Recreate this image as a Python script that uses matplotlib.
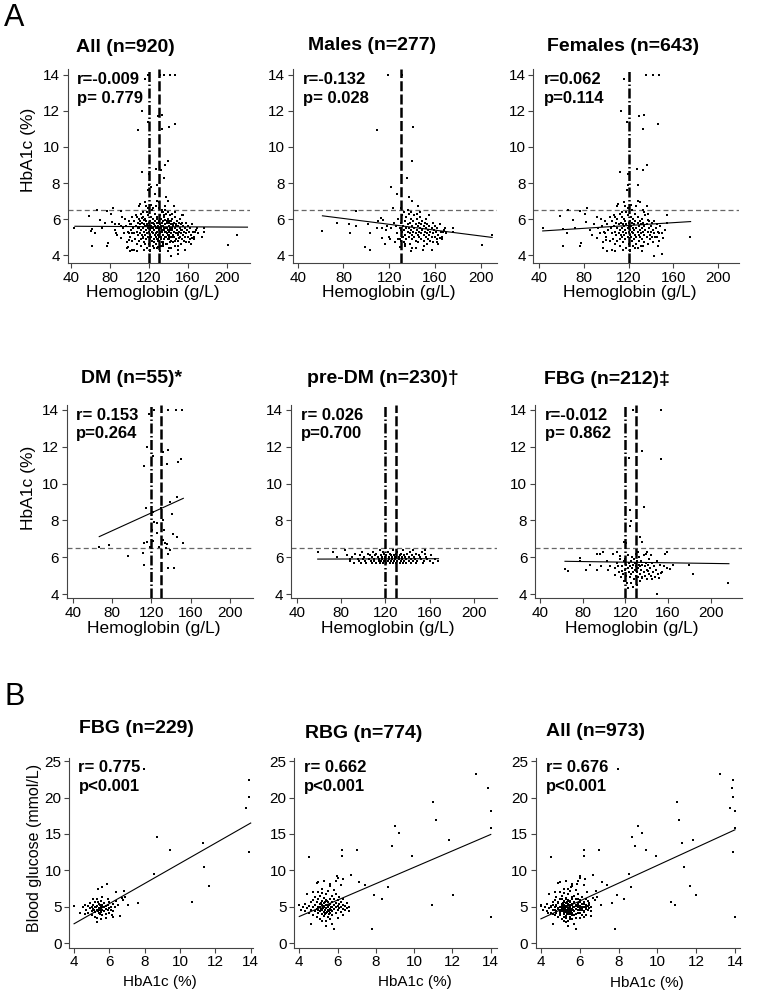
import matplotlib.pyplot as plt

plt.rcParams['font.family'] = ['Liberation Sans', 'DejaVu Sans']

W, H = 758, 997

# ---------------- Panel A: hemoglobin (g/L) vs HbA1c (%) ----------------
males = [
    (119, 14.0), (131, 14.0), (109, 10.95), (140.6, 11.1), (139.7, 9.2), (135.3, 8.3),
    (121.6, 7.8), (126.6, 7.4), (137, 7.2), (139.7, 7.0), (145.5, 6.7), (91, 6.45), (123.6, 6.6),
    (61, 5.35), (74.7, 5.8), (84.9, 5.7), (85.8, 5.2), (91, 5.6), (101.8, 5.75), (102.8, 5.2),
    (98.9, 4.45), (102.8, 4.3), (109, 5.5), (110.5, 5.9), (112.6, 6.05), (113.4, 5.5),
    (114.9, 5.95), (116.4, 4.6), (113.4, 4.95),
    (210.2, 5.1), (201.5, 4.55), (168.8, 5.5), (167.4, 5.3), (164.5, 4.95), (161.5, 4.75),
    (157.2, 4.3), (149.3, 4.3), (139.3, 4.25), (134.2, 4.6), (129.5, 4.45),
    (126, 5.6), (127, 5.2), (128, 4.9), (128, 6.0), (129, 5.5), (130, 5.8), (130, 4.8), (131, 5.3),
    (131, 6.2), (132, 5.0), (132, 5.6), (133, 5.4), (133, 4.7), (134, 5.9), (134, 5.1), (135, 5.5),
    (135, 6.1), (135, 4.9), (136, 5.3), (136, 5.7), (137, 5.0), (137, 6.3), (137, 5.5), (138, 5.2),
    (138, 5.8), (138, 4.6), (139, 5.4), (139, 6.0), (140, 5.1), (140, 5.6), (140, 4.9), (141, 5.3),
    (141, 5.9), (142, 5.5), (142, 5.0), (142, 6.2), (143, 5.2), (143, 5.7), (143, 4.8), (144, 5.4),
    (144, 6.0), (145, 5.1), (145, 5.6), (145, 4.7), (146, 5.3), (146, 5.8), (146, 5.0), (147, 5.5),
    (147, 6.1), (148, 5.2), (148, 5.7), (148, 4.9), (149, 5.4), (149, 5.9), (150, 5.1), (150, 5.6),
    (150, 4.8), (151, 5.3), (151, 5.8), (152, 5.0), (152, 5.5), (152, 6.0), (153, 5.2), (153, 5.7),
    (154, 4.9), (154, 5.4), (155, 5.1), (155, 5.6), (155, 6.2), (156, 5.3), (156, 4.8), (157, 5.5),
    (157, 5.0), (158, 5.2), (158, 5.8), (159, 5.4), (160, 5.0), (160, 5.6), (161, 5.3), (162, 4.9),
    (162, 5.5), (163, 5.1), (164, 5.7), (165, 5.3), (166, 5.0), (168, 5.4), (170, 5.2), (176, 5.5),
    (176, 5.3), (130, 5.4), (130, 6.6), (129, 4.9), (131, 5.0), (133, 6.4), (136, 6.5), (139, 6.4),
    (144, 6.3), (147, 6.4), (134, 4.5), (140, 4.4), (143, 4.4), (150, 4.5), (153, 4.6), (158, 4.7),
    (163, 4.6), (166, 4.9), (120, 5.0), (122, 5.5), (124, 5.8), (118, 5.6), (121, 4.9), (125, 4.7),
    (117, 5.4),
]

females = [
    (135.2, 14.0), (142, 14.0), (147, 14.0), (115.8, 13.8), (113.2, 12.0), (118.8, 11.4),
    (129.2, 11.7), (133.7, 11.8), (133.1, 11.0), (146.5, 11.3), (112.3, 8.6), (119.7, 8.5),
    (127.1, 8.8), (136, 9.0), (132.5, 8.7), (119.7, 7.9), (128, 7.9), (118.8, 7.6), (115.8, 6.95),
    (128, 7.0),
    (43.3, 5.5), (58.7, 6.15), (61.1, 5.45), (61.7, 4.5), (64.7, 5.25), (66.2, 6.5), (70, 5.95),
    (72.1, 5.5), (76.6, 6.45), (77.5, 4.65), (76.6, 4.5), (81, 6.3), (81.9, 5.85), (83.1, 6.6),
    (85.5, 5.4), (87, 5.1), (89.4, 5.75), (91.4, 4.95), (92, 6.1), (94.4, 5.2), (95.9, 5.6),
    (97.4, 4.4), (99.8, 4.85), (100.4, 4.2), (104.8, 4.3), (107.8, 4.2), (107.8, 6.1), (109.3, 6.7),
    (110.8, 6.85),
    (174.7, 5.0), (153.9, 6.2), (153.9, 5.8), (152.4, 5.4), (151, 4.95), (149.4, 4.05),
    (142.6, 3.95), (146.5, 4.5), (143.5, 5.0), (147.4, 5.2), (141.4, 5.4), (136, 6.7), (136.9, 5.95),
    (133, 6.5), (130.1, 6.95), (131.6, 4.2), (125.6, 4.4), (121.2, 4.2),
    (96, 5.6), (98, 5.3), (99, 5.9), (100, 5.0), (101, 5.7), (102, 5.4), (103, 6.1), (103, 4.8),
    (104, 5.5), (105, 5.2), (105, 5.9), (106, 4.9), (107, 5.6), (107, 6.2), (108, 5.3), (108, 4.6),
    (109, 5.8), (109, 5.1), (110, 5.5), (110, 6.0), (110, 4.8), (111, 5.2), (111, 5.7), (112, 5.4),
    (112, 6.3), (112, 4.9), (113, 5.1), (113, 5.8), (114, 5.5), (114, 5.0), (114, 6.1), (115, 5.3),
    (115, 5.7), (115, 4.7), (116, 5.6), (116, 5.1), (116, 6.0), (117, 5.4), (117, 4.9), (117, 5.9),
    (118, 5.2), (118, 5.7), (118, 6.4), (119, 5.5), (119, 5.0), (119, 6.2), (120, 5.3), (120, 5.8),
    (120, 4.6), (120, 5.6), (121, 5.1), (121, 5.9), (121, 5.4), (122, 5.6), (122, 5.0), (122, 6.1),
    (123, 5.3), (123, 5.8), (123, 4.8), (124, 5.5), (124, 6.0), (124, 5.2), (125, 5.7), (125, 4.9),
    (125, 5.4), (126, 5.1), (126, 5.9), (126, 6.3), (127, 5.5), (127, 5.0), (127, 4.6), (128, 5.3),
    (128, 5.8), (128, 6.1), (129, 5.6), (129, 5.1), (129, 4.8), (130, 5.4), (130, 5.9), (130, 5.0),
    (131, 5.2), (131, 5.7), (131, 4.5), (132, 5.5), (132, 6.0), (132, 4.9), (133, 5.3), (133, 5.8),
    (134, 5.1), (134, 5.6), (134, 4.7), (135, 5.4), (135, 6.2), (136, 5.0), (136, 5.7), (137, 5.3),
    (137, 4.6), (138, 5.5), (138, 5.9), (139, 5.1), (139, 4.9), (140, 5.6), (140, 5.3), (141, 5.0),
    (141, 5.8), (142, 5.4), (142, 4.7), (143, 5.2), (143, 5.9), (144, 5.5), (145, 5.0), (145, 5.7),
    (146, 5.3), (147, 4.8), (148, 5.6), (150, 5.2), (118, 4.4), (121, 4.3), (124, 4.5), (128, 4.4),
    (133, 4.5), (112, 4.5), (115, 4.3), (119, 6.6), (123, 6.5), (127, 6.7), (114, 6.4), (117, 6.7),
    (122, 6.8), (134, 6.4), (137, 6.3), (93, 5.5), (95, 6.0), (97, 4.7), (99, 5.2),
]

dm = [
    (118, 13.8), (123, 14.0), (137, 14.0), (145, 14.0), (151, 14.0), (115.3, 12.0), (121.4, 11.5),
    (131.5, 11.7), (137.3, 11.85), (135.6, 11.05), (146.8, 11.15), (149.8, 11.35), (112.9, 10.95),
    (114.2, 8.65), (122, 8.45), (129.8, 8.65), (139, 9.0), (145.8, 9.25), (140.7, 8.35), (122.7, 7.9),
    (126.1, 7.85), (132.2, 8.0), (120.3, 7.5), (132.9, 7.5), (142.4, 7.25), (145.8, 7.1), (125.4, 7.3),
    (131.5, 6.95), (133.9, 6.8), (135.6, 6.7), (151.9, 6.8), (112.5, 6.8), (115.3, 6.85),
    (121.4, 6.9), (118.6, 6.55), (128.1, 6.55), (134.6, 6.5), (139, 6.4), (67.1, 6.55), (76.9, 6.65),
    (95.9, 6.05), (111.9, 6.25), (112.9, 5.6), (137.3, 6.15), (136.6, 5.4), (143, 5.4),
]

predm = [
    (59.5, 6.3), (72.5, 6.3), (76.7, 6.0), (83.6, 6.4), (85.1, 6.1), (88.1, 5.9),
    (88, 5.8), (90, 6.0), (92, 5.7), (93, 6.2), (95, 5.9), (96, 5.8), (97, 6.1), (98, 5.7), (99, 6.3),
    (100, 5.9), (101, 6.0), (102, 5.8), (103, 5.7), (104, 6.2), (105, 5.9), (106, 6.1), (107, 5.8),
    (108, 5.7), (108, 6.0), (109, 6.3), (110, 5.9), (110, 5.8), (111, 6.1), (112, 5.7), (112, 6.2),
    (113, 6.0), (114, 5.8), (114, 5.9), (115, 6.4), (115, 5.7), (116, 6.1), (116, 5.8), (117, 6.0),
    (117, 5.9), (118, 6.3), (118, 5.7), (119, 6.2), (119, 5.8), (120, 6.0), (120, 5.9), (121, 5.7),
    (121, 6.1), (122, 5.8), (122, 6.3), (123, 6.0), (123, 5.9), (124, 5.7), (124, 6.2), (125, 5.8),
    (125, 6.1), (126, 6.0), (126, 5.9), (127, 5.7), (127, 6.4), (128, 5.8), (128, 6.1), (129, 6.0),
    (129, 5.9), (130, 5.7), (130, 6.2), (131, 5.8), (131, 6.3), (132, 6.0), (132, 5.9), (133, 5.7),
    (133, 6.1), (134, 5.8), (134, 6.2), (135, 6.0), (135, 5.9), (136, 5.7), (136, 6.4), (137, 5.8),
    (137, 6.1), (138, 6.0), (139, 5.9), (139, 5.7), (140, 6.2), (141, 5.8), (141, 6.0), (142, 6.3),
    (143, 5.9), (143, 5.7), (144, 6.1), (145, 5.8), (146, 6.0), (147, 5.9), (148, 6.2), (148, 5.7),
    (149, 5.8), (150, 6.1), (151, 6.0), (152, 5.9), (153, 6.3), (154, 5.7), (155, 5.8), (156, 6.2),
    (157, 6.0), (158, 5.9), (160, 5.8), (161, 6.1), (163, 5.7), (165, 5.9), (168, 5.8), (156, 6.4),
    (145, 6.4),
]

fbg_a = [
    (126.9, 14.0), (153.4, 14.0), (123.8, 11.4), (135.3, 11.75), (153.4, 11.35), (137.5, 8.75),
    (124.4, 8.55), (125, 7.95), (124.4, 7.7), (133.8, 7.1), (135.3, 6.85), (118.8, 6.85), (120.6, 6.75),
    (63.4, 5.35), (66.6, 5.25), (77.5, 5.95), (77.5, 5.8), (83.1, 5.3), (86.9, 5.6), (93.1, 5.3),
    (93.1, 6.2), (96.3, 6.2), (97.2, 5.5), (99.4, 6.3), (102.5, 5.8), (104.1, 5.3), (105.6, 5.5),
    (108.8, 6.15), (110.3, 5.05), (111.9, 6.3), (113.4, 5.5), (115, 6.05), (116.6, 5.25),
    (216.6, 4.6), (183.1, 5.1), (180, 5.6), (165, 5.6), (161.9, 5.35), (159.4, 5.4), (158.8, 6.3),
    (157.2, 6.15), (153.4, 5.15), (151.2, 4.85), (149.4, 4.0), (144.7, 4.8), (141.6, 5.25),
    (140, 6.3), (135.3, 4.85), (133.8, 4.7), (130.6, 4.5), (127.5, 4.4), (122.8, 4.35), (121.3, 4.6),
    (117, 5.5), (118, 5.1), (119, 5.8), (120, 5.3), (120, 5.9), (121, 5.0), (121, 5.6), (122, 5.4),
    (122, 6.1), (123, 5.2), (123, 5.7), (124, 4.9), (124, 5.5), (125, 5.8), (125, 5.1), (126, 5.4),
    (126, 6.0), (127, 5.2), (127, 5.6), (128, 4.8), (128, 5.9), (129, 5.3), (129, 5.7), (130, 5.0),
    (130, 5.5), (130, 6.2), (131, 5.2), (131, 5.8), (132, 5.4), (132, 4.9), (133, 5.6), (133, 6.0),
    (134, 5.1), (134, 5.5), (135, 5.8), (135, 5.3), (136, 4.9), (136, 5.6), (137, 5.2), (137, 6.1),
    (138, 5.5), (138, 5.0), (139, 5.7), (140, 5.3), (140, 4.8), (141, 5.6), (142, 5.1), (142, 5.9),
    (143, 5.4), (144, 5.0), (145, 5.7), (146, 5.2), (147, 5.5), (148, 4.9), (149, 5.3), (150, 5.8),
    (151, 5.1), (152, 5.6), (154, 5.2), (156, 5.5), (112, 5.7), (114, 5.2), (115, 5.9), (116, 4.9),
    (119, 4.7), (125, 4.6), (132, 6.3), (139, 6.2), (144, 6.1), (110, 5.4),
]

# ---------------- Panel B: HbA1c (%) vs blood glucose (mmol/L) ----------------
fbg_b = [
    (7.96, 23.95), (13.92, 22.4), (13.92, 20.05), (13.74, 18.6), (13.92, 12.5), (8.68, 14.55),
    (9.43, 12.8), (11.28, 13.75), (11.38, 10.45), (8.53, 9.5), (11.66, 7.8), (10.7, 5.6),
    (7.64, 5.55), (7.08, 5.3), (6.83, 7.2), (6.89, 6.4), (6.79, 5.95), (6.38, 7.0), (6.13, 3.9),
    (4.0, 5.15), (4.34, 4.1), (5.85, 8.15), (5.57, 7.7), (5.38, 7.45),
    (4.7, 4.6), (4.8, 5.1), (4.8, 4.2), (4.9, 4.8), (4.9, 5.5), (5.0, 4.4), (5.0, 5.0), (5.0, 3.8),
    (5.1, 4.7), (5.1, 5.3), (5.1, 6.1), (5.2, 4.3), (5.2, 4.9), (5.2, 5.6), (5.3, 4.5), (5.3, 5.1),
    (5.3, 3.5), (5.3, 6.0), (5.4, 4.8), (5.4, 4.1), (5.4, 5.4), (5.4, 4.6), (5.5, 5.0), (5.5, 4.3),
    (5.5, 5.8), (5.5, 3.3), (5.5, 4.8), (5.6, 4.6), (5.6, 5.2), (5.6, 3.9), (5.6, 6.4), (5.7, 4.9),
    (5.7, 4.4), (5.7, 5.5), (5.8, 4.7), (5.8, 5.1), (5.8, 4.0), (5.9, 4.5), (5.9, 5.3), (5.9, 6.0),
    (6.0, 4.8), (6.0, 4.2), (6.0, 5.6), (6.1, 4.6), (6.1, 5.0), (6.2, 4.4), (6.2, 5.4), (4.6, 5.3),
    (4.5, 4.9), (4.6, 4.0), (5.2, 3.6), (5.3, 2.9), (5.8, 3.5), (6.2, 3.6), (6.3, 4.9), (6.4, 5.8),
    (6.5, 5.2), (6.6, 3.7), (6.7, 6.2), (5.15, 4.6), (5.25, 5.0), (5.35, 4.4), (5.45, 5.2),
    (5.55, 4.5), (5.65, 5.0), (5.35, 5.7), (5.45, 4.0),
]

rbg = [
    (13.23, 23.25), (13.83, 21.3), (14.0, 18.1), (14.0, 15.85), (11.0, 19.45), (11.13, 16.85),
    (9.0, 16.15), (9.21, 15.1), (11.82, 14.1), (8.83, 13.3), (9.91, 11.95), (6.21, 12.85),
    (6.21, 11.95), (7.0, 12.75), (4.51, 11.8), (6.68, 9.3), (7.14, 8.4), (7.43, 8.0), (8.62, 7.7),
    (7.92, 6.55), (8.3, 6.1), (12.01, 6.55), (10.92, 5.25), (14.0, 3.65), (7.8, 1.95), (6.26, 8.85),
    (5.99, 9.2),
    (4.0, 5.2), (4.1, 4.6), (4.2, 5.0), (4.3, 4.4), (4.3, 5.4), (4.4, 4.8), (4.4, 6.8), (4.5, 5.1),
    (4.5, 4.2), (4.6, 5.6), (4.6, 4.5), (4.6, 2.6), (4.7, 4.9), (4.7, 5.9), (4.7, 3.9), (4.8, 5.3),
    (4.8, 4.4), (4.8, 6.3), (4.9, 4.7), (4.9, 5.6), (4.9, 3.6), (4.9, 8.2), (5.0, 5.0), (5.0, 4.2),
    (5.0, 6.0), (5.0, 4.6), (5.0, 7.0), (5.1, 5.4), (5.1, 4.4), (5.1, 3.3), (5.1, 6.5), (5.1, 4.9),
    (5.2, 5.2), (5.2, 4.0), (5.2, 5.8), (5.2, 4.6), (5.2, 7.4), (5.2, 3.1), (5.3, 5.0), (5.3, 4.3),
    (5.3, 6.2), (5.3, 5.5), (5.3, 3.7), (5.3, 8.6), (5.4, 4.8), (5.4, 5.3), (5.4, 4.1), (5.4, 6.7),
    (5.4, 5.9), (5.4, 3.0), (5.5, 5.1), (5.5, 4.5), (5.5, 5.7), (5.5, 3.6), (5.5, 7.1), (5.5, 4.9),
    (5.6, 5.4), (5.6, 4.2), (5.6, 6.1), (5.6, 4.7), (5.6, 3.3), (5.6, 7.8), (5.7, 5.0), (5.7, 4.4),
    (5.7, 5.6), (5.7, 6.5), (5.7, 3.9), (5.8, 5.2), (5.8, 4.7), (5.8, 6.0), (5.8, 2.0), (5.8, 7.3),
    (5.9, 4.9), (5.9, 5.5), (5.9, 4.1), (5.9, 6.8), (6.0, 5.1), (6.0, 4.5), (6.0, 5.9), (6.0, 3.5),
    (6.1, 4.8), (6.1, 5.4), (6.1, 6.4), (6.2, 5.0), (6.2, 4.3), (6.2, 5.7), (6.3, 4.7), (6.3, 5.3),
    (6.3, 6.0), (6.4, 4.5), (6.4, 5.1), (6.5, 5.5), (6.5, 4.8), (6.6, 5.0), (6.6, 4.4), (6.3, 3.9),
    (5.4, 2.4), (5.7, 2.6), (5.2, 6.9), (5.6, 8.1), (6.0, 9.0), (5.0, 8.4), (4.7, 7.0), (5.9, 8.5),
    (6.2, 8.0), (5.15, 4.7), (5.25, 5.1), (5.35, 4.5), (5.45, 5.2), (5.55, 4.4), (5.65, 5.0),
    (5.25, 4.8), (5.35, 5.6), (5.45, 4.3), (5.55, 5.3), (5.65, 4.6), (5.15, 5.5), (5.35, 4.0),
    (5.45, 5.8), (5.55, 4.0),
]

# fitted lines (two end points each), correlation labels, reference lines
titles = ['All (n=920)', 'Males (n=277)', 'Females (n=643)',
          'DM (n=55)*', 'pre-DM (n=230)\u2020', 'FBG (n=212)\u2021',
          'FBG (n=229)', 'RBG (n=774)', 'All (n=973)']
r_labels = ['r=-0.009', 'r=-0.132', 'r=0.062', 'r= 0.153', 'r= 0.026', 'r=-0.012',
            'r= 0.775', 'r= 0.662', 'r= 0.676']
p_labels = ['p= 0.779', 'p= 0.028', 'p=0.114', 'p=0.264', 'p=0.700', 'p= 0.862',
            'p<0.001', 'p<0.001', 'p<0.001']
fit_x = [(44, 221), (61.6, 210), (43.3, 175.3), (67, 152.5), (59, 168), (63.4, 217),
         (4.0, 14.0), (4.0, 14.0), (4.0, 14.0)]
fit_y = [(5.6, 5.55), (6.18, 4.98), (5.34, 5.86), (7.12, 9.2), (5.9, 5.92), (5.78, 5.65),
         (2.66, 16.5), (3.66, 14.93), (3.34, 15.57)]
hb_cutoffs = [(120, 130), (130,), (120,), (120, 130), (120, 130), (120, 130)]
a1c_cutoff = 6.5

datasets = [males + females, males, females, dm, predm, fbg_a, fbg_b, rbg, fbg_b + rbg]

# pixel boxes of the plot areas: left, top, right, bottom
boxes = [(68, 69, 250, 263), (292.7, 69, 496.7, 263), (533.3, 69, 739, 263),
         (66.7, 405, 253, 598.3), (291, 405, 497, 598.3), (535, 405, 741.7, 598.3),
         (69.3, 757.5, 253, 947.5), (294.3, 757.5, 496.7, 947.5), (535.7, 757.5, 740, 947.5)]
xlims = [(36.9, 223.6), (35.6, 214), (34.9, 218.5), (33.9, 223.4), (34.9, 220.8), (35.3, 229),
         (3.73, 14.13), (3.74, 14.31), (3.73, 14.26)]
ylims = [(3.56, 14.33)] * 3 + [(3.77, 14.27)] * 3 + [(-0.6, 25.5)] * 3
title_pos = [(125, 48), (371.7, 45), (623.3, 46.7), (131.7, 378.3), (383.3, 378.3),
             (606.7, 379.3), (136.7, 728.3), (363.3, 733.3), (595, 731.7)]
xlabel_pos = [(152.8, 293), (388.8, 293), (629.7, 293), (154, 628), (388, 628), (632, 628),
              (159.5, 981.7), (415, 981.7), (646.8, 983)]

fig = plt.figure(figsize=(W / 100, H / 100), dpi=100)
fig.patch.set_facecolor('white')

def fx(x):
    return x / W

def fy(y):
    return 1 - y / H

for i, pts in enumerate(datasets):
    l, t, r, b = boxes[i]
    ax = fig.add_axes([fx(l), fy(b), (r - l) / W, (b - t) / H])
    xs = [p[0] for p in pts]
    ys = [p[1] for p in pts]
    ax.scatter(xs, ys, s=4, marker='s', color='black', linewidths=0, zorder=3)
    ax.plot(fit_x[i], fit_y[i], color='black', lw=0.8, zorder=4)
    if i < 6:
        ax.axhline(a1c_cutoff, color='#666666', lw=0.9, dashes=(4, 2.5), zorder=2)
        for c in hb_cutoffs[i]:
            if c == 120:
                ax.axvline(c, color='black', lw=1.8, dashes=(4, 1.0, 0.6, 1.0), zorder=5)
            else:
                ax.axvline(c, color='black', lw=1.8, dashes=(4, 1.3), zorder=5)
        ax.set_xticks([40, 80, 120, 160, 200])
        ax.set_yticks([4, 6, 8, 10, 12, 14])
        xlab = 'Hemoglobin (g/L)'
        xfs = 12.5
    else:
        ax.set_xticks([4, 6, 8, 10, 12, 14])
        ax.set_yticks([0, 5, 10, 15, 20, 25])
        xlab = 'HbA1c (%)'
        xfs = 11
    ax.set_xlim(*xlims[i])
    ax.set_ylim(*ylims[i])
    for side in ('top', 'right'):
        ax.spines[side].set_visible(False)
    for side in ('left', 'bottom'):
        ax.spines[side].set_color('#444444')
        ax.spines[side].set_linewidth(0.8)
    ax.tick_params(direction='out', length=3.5, width=0.8, color='#444444',
                   labelsize=11, pad=2)
    ax.set_facecolor('white')

    ax.text(0.05, 0.945, r_labels[i], transform=ax.transAxes, fontsize=12,
            fontweight='bold', va='center', ha='left')
    ax.text(0.05, 0.85, p_labels[i], transform=ax.transAxes, fontsize=12,
            fontweight='bold', va='center', ha='left')

    fig.text(fx(title_pos[i][0]), fy(title_pos[i][1]), titles[i], fontsize=14,
             fontweight='bold', ha='center', va='center')
    fig.text(fx(xlabel_pos[i][0]), fy(xlabel_pos[i][1]), xlab, fontsize=xfs,
             ha='center', va='center')

fig.text(fx(28), fy(150), 'HbA1c (%)', fontsize=12.5, rotation=90, ha='center', va='center')
fig.text(fx(28), fy(488), 'HbA1c (%)', fontsize=12.5, rotation=90, ha='center', va='center')
fig.text(fx(35), fy(848), 'Blood glucose (mmol/L)', fontsize=11.5, rotation=90,
         ha='center', va='center')

fig.text(fx(14), fy(18), 'A', fontsize=22, ha='center', va='center')
fig.text(fx(14.5), fy(697), 'B', fontsize=22, ha='center', va='center')

fig.savefig('out.png', dpi=100, facecolor='white')
